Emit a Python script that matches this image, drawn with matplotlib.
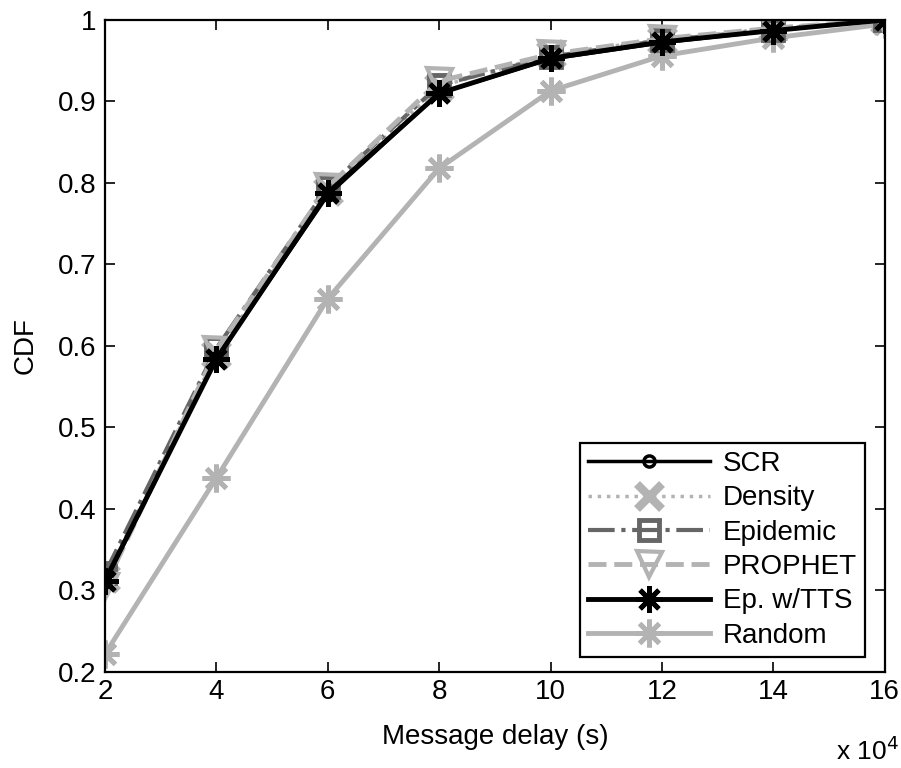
import matplotlib
matplotlib.use("Agg")
import matplotlib.pyplot as plt

plt.rcParams["font.family"] = ["Liberation Sans", "DejaVu Sans"]
plt.rcParams["font.size"] = 20

# message delay in units of 1e4 s
delay = [2, 4, 6, 8, 10, 12, 14, 16]

scr = [0.310, 0.585, 0.785, 0.910, 0.952, 0.972, 0.987, 1.0]
density = [0.315, 0.590, 0.790, 0.918, 0.958, 0.976, 0.990, 1.0]
epidemic = [0.321, 0.597, 0.795, 0.920, 0.955, 0.975, 0.988, 1.0]
prophet = [0.305, 0.595, 0.795, 0.925, 0.958, 0.977, 0.990, 1.0]
ep_tts = [0.312, 0.584, 0.788, 0.910, 0.953, 0.973, 0.987, 1.0]
random_fwd = [0.222, 0.438, 0.658, 0.818, 0.913, 0.956, 0.978, 0.995]

labels = ["SCR", "Density", "Epidemic", "PROPHET", "Ep. w/TTS", "Random"]

light = (0.7, 0.7, 0.7)
dark = (0.4, 0.4, 0.4)
star = (8, 2, 0)  # 8-armed asterisk

fig = plt.figure(figsize=(9.01, 7.68), dpi=100)
ax = fig.add_axes([0.1165, 0.125, 0.8655, 0.849])

ax.plot(delay, scr, "-", color="k", lw=2.5, marker="o", ms=8, mew=2.5,
        mfc="none", label=labels[0], zorder=3)
ax.plot(delay, density, ":", color=light, lw=2.5, marker="x", ms=18, mew=6,
        label=labels[1], zorder=2)
ax.plot(delay, epidemic, "-.", color=dark, lw=3, marker="s", ms=14, mew=3.5,
        mfc="none", label=labels[2], zorder=2)
ax.plot(delay, prophet, "--", color=light, lw=3.5, marker="v", ms=18, mew=3,
        mfc="none", label=labels[3], zorder=2)
ax.plot(delay, ep_tts, "-", color="k", lw=3.5, marker=star, ms=19, mew=3.5,
        label=labels[4], zorder=4)
ax.plot(delay, random_fwd, "-", color=light, lw=3.5, marker=star, ms=20,
        mew=3.5, label=labels[5], zorder=1)

ax.set_xlim(2, 16)
ax.set_ylim(0.2, 1.0)
ax.set_xticks(delay)
ax.set_yticks([0.2, 0.3, 0.4, 0.5, 0.6, 0.7, 0.8, 0.9, 1.0])
ax.set_yticklabels(["0.2", "0.3", "0.4", "0.5", "0.6", "0.7", "0.8", "0.9", "1"])
ax.tick_params(axis="both", direction="in", top=True, right=True, length=7,
               width=1.2)
ax.tick_params(axis="x", pad=5)
ax.tick_params(axis="y", pad=6)
for s in ax.spines.values():
    s.set_linewidth(1.6)

ax.set_xlabel("Message delay (s)", labelpad=14)
ax.set_ylabel("CDF", labelpad=14)
fig.text(0.997, 0.004, r"x 10$^4$", ha="right", va="bottom", fontsize=19)

leg = ax.legend(loc="lower right", bbox_to_anchor=(0.975, 0.023),
                handlelength=4.4, fancybox=False, framealpha=1,
                edgecolor="k", borderpad=0.3, labelspacing=0.3,
                handletextpad=0.45, fontsize=20, borderaxespad=0)
leg.get_frame().set_linewidth(1.6)

fig.savefig("out.png", dpi=100)
